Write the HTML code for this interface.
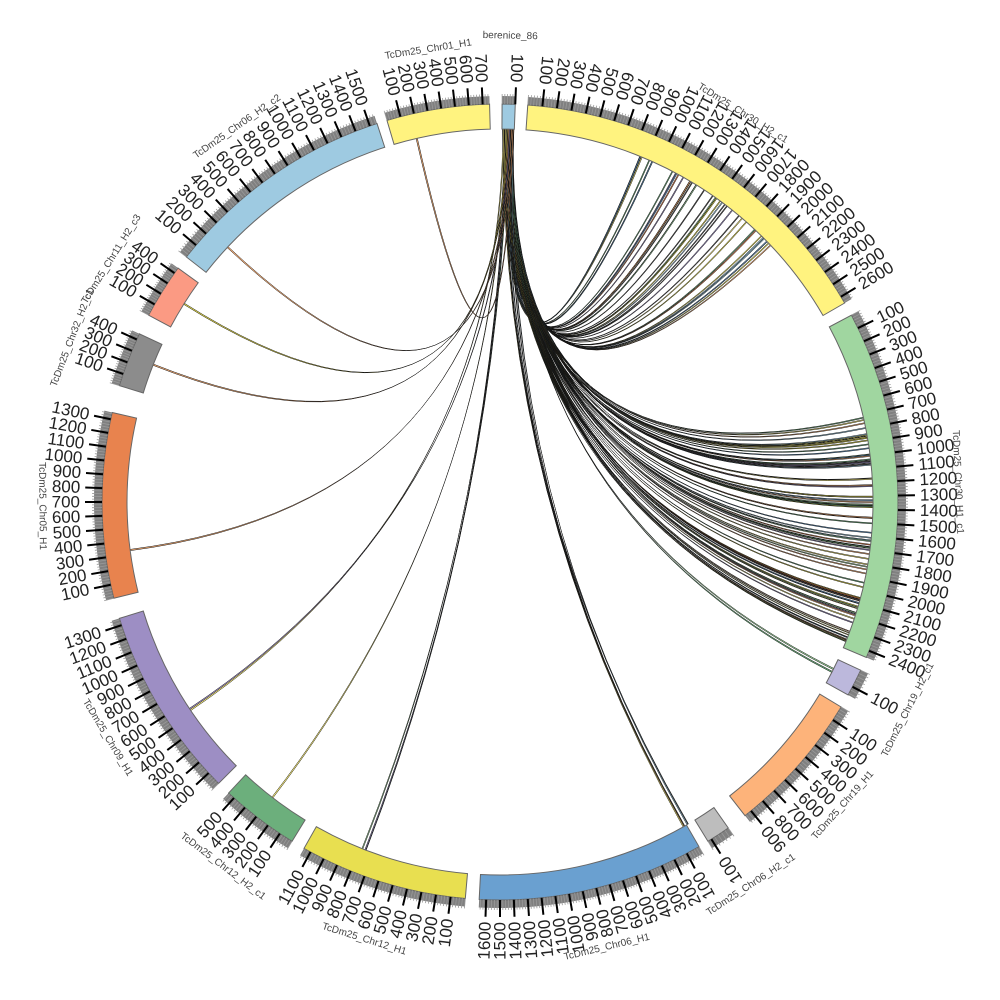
<!DOCTYPE html>
<html><head><meta charset="utf-8"><style>
html,body{margin:0;padding:0;background:#fff;width:1000px;height:1000px;overflow:hidden}
svg{display:block}
</style></head><body>
<svg id="s" width="1000" height="1000" xmlns="http://www.w3.org/2000/svg"></svg>
<script>
const NS="http://www.w3.org/2000/svg",S=document.getElementById('s');
const CX=500,CY=502,RI=373,RO=398,RB=406,RT=415,RL=420,RN=458;
function P(a,r){const t=a*Math.PI/180;return [CX+r*Math.sin(t),CY-r*Math.cos(t)];}
function el(n,at,txt){const e=document.createElementNS(NS,n);for(const k in at)e.setAttribute(k,at[k]);if(txt!==undefined)e.textContent=txt;S.appendChild(e);return e;}
function arc(a0,a1,r0,r1){const l=(a1-a0)>180?1:0;const p1=P(a0,r1),p2=P(a1,r1),p3=P(a1,r0),p4=P(a0,r0);
return `M${p1[0]},${p1[1]} A${r1},${r1} 0 ${l} 1 ${p2[0]},${p2[1]} L${p3[0]},${p3[1]} A${r0},${r0} 0 ${l} 0 ${p4[0]},${p4[1]} Z`;}
const B=[
["berenice_86",0.3,2.2,"#9ecae1",100],
["TcDm25_Chr30_H2_c1",4,60,"#fff37f",2650],
["TcDm25_Chr30_H1_c1",62,113,"#a0d6a0",2450],
["TcDm25_Chr19_H2_c1",115,119,"#bcb8dc",150],
["TcDm25_Chr19_H1",121,142,"#fdb37a",950],
["TcDm25_Chr06_H2_c1",145,148.5,"#bdbdbd",120],
["TcDm25_Chr06_H1",150,183,"#6aa0d0",1650],
["TcDm25_Chr12_H1",185,209.5,"#e8df50",1150],
["TcDm25_Chr12_H2_c1",211.5,223,"#6caf7c",550],
["TcDm25_Chr09_H1",225,253,"#9d8ec4",1350],
["TcDm25_Chr05_H1",256,283,"#e8834e",1350],
["TcDm25_Chr32_H2_c1",287,295,"#8c8c8c",450],
["TcDm25_Chr11_H2_c3",298,306,"#fb9a83",450],
["TcDm25_Chr06_H2_c2",308,342,"#9ecae1",1550],
["TcDm25_Chr01_H1",343.5,358.5,"#fff37f",750]];
// links
let seed=7;function rnd(){seed=(seed*16807)%2147483647;return seed/2147483647;}
const cols=["#fff37f","#a0d6a0","#6aa0d0","#e8834e","#9d8ec4","#6caf7c","#e8df50","#fdb37a","#9ecae1","#555"];
const g=el('g',{});
function link(ta,w){const s=0.4+rnd()*1.6;const a=P(s,RI),b=P(s+0.15,RI),c=P(ta,RI),d=P(ta+w,RI);
const col=cols[Math.floor(rnd()*cols.length)];
const p=document.createElementNS(NS,'path');
p.setAttribute('d',`M${a[0]},${a[1]} Q${CX},${CY} ${c[0]},${c[1]} L${d[0]},${d[1]} Q${CX},${CY} ${b[0]},${b[1]} Z`);
p.setAttribute('fill',col);p.setAttribute('stroke','#111');p.setAttribute('stroke-width','0.5');g.appendChild(p);}
for(let i=0;i<40;i++)link(22+rnd()*26,0.15);
for(let i=0;i<70;i++)link(76+rnd()*33,0.15);
for(let i=0;i<10;i++)link(110+rnd()*2,0.1);
link(116.5,0.2);link(117,0.2);
for(let i=0;i<6;i++)link(149.5+rnd()*1,0.15);
for(let i=0;i<3;i++)link(201+rnd()*0.6,0.15);
link(217.5,0.2);link(236,0.3);link(236.2,0.2);link(262.5,0.2);link(291.5,0.2);link(302,0.2);link(313,0.2);link(347,0.2);
// blocks
B.forEach(b=>{const [n,a0,a1,c,len]=b;
el('path',{d:arc(a0,a1,RO,RB),fill:'#808080'});
el('path',{d:arc(a0,a1,RI,RO),fill:c,stroke:'#666','stroke-width':1});
const sc=(a1-a0)/len;
for(let k=0;k*20<=len;k++){const a=a0+k*20*sc;if(a>a1)break;const maj=k%5==0&&k>0;
const p1=P(a,RO),p2=P(a,maj?RT:RB+2);
el('line',{x1:p1[0],y1:p1[1],x2:p2[0],y2:p2[1],stroke:maj?'#000':'#999','stroke-width':maj?2:0.8});
if(maj){const lp=P(a,RL);const v=k*20;let rot,anc;
if(a>=40&&a<=140){rot=a-90;anc='start';}else{rot=a+90;anc='end';}
el('text',{x:lp[0],y:lp[1],transform:`rotate(${rot} ${lp[0]} ${lp[1]})`,'text-anchor':anc,'dominant-baseline':'central','font-family':'Liberation Sans, sans-serif','font-size':17,fill:'#222'},String(v));}}
const m=(a0+a1)/2;const np=P(m,RN+(n=="berenice_86"?8:0));let rot=(m>=92&&m<=272)?m-180:m;
el('text',{x:np[0],y:np[1],transform:`rotate(${rot} ${np[0]} ${np[1]})`,'text-anchor':'middle','dominant-baseline':'central','font-family':'Liberation Sans, sans-serif','font-size':10,fill:'#444'},n);
});
</script>
</body></html>
